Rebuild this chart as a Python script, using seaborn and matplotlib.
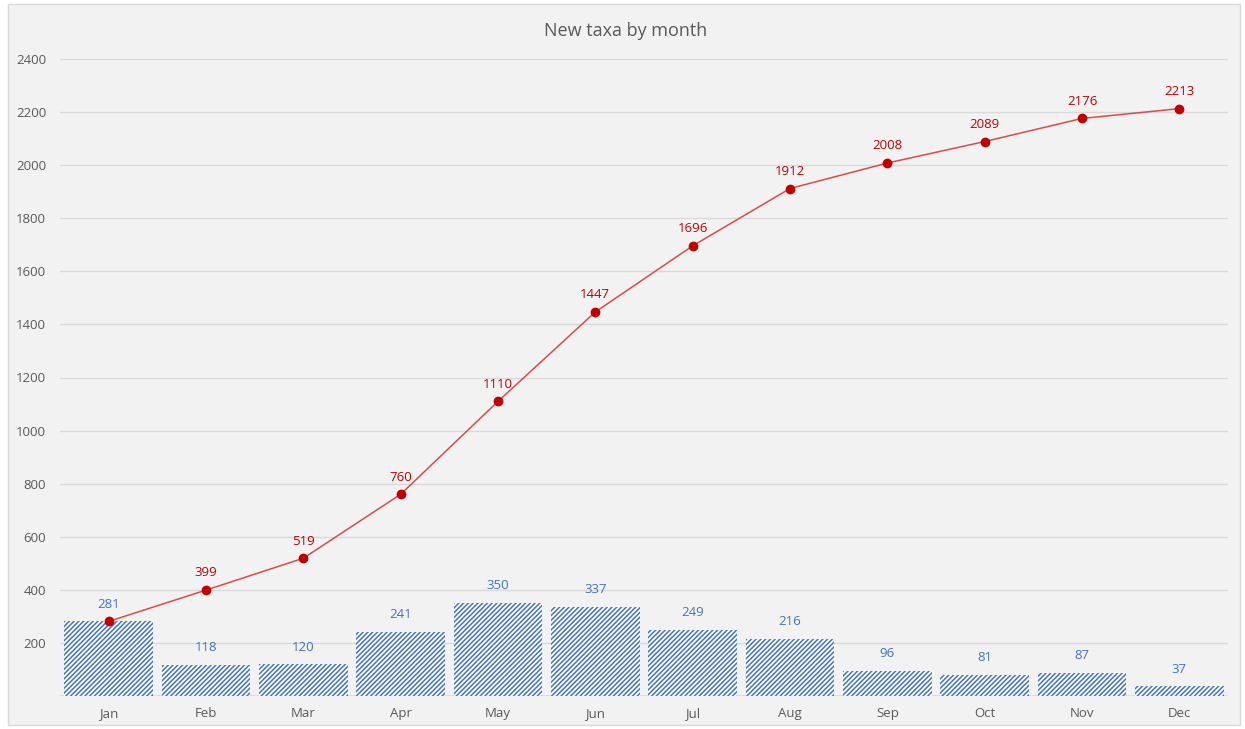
import pandas as pd
import matplotlib
matplotlib.use('Agg')
import matplotlib.pyplot as plt
import seaborn as sns

months = ['Jan', 'Feb', 'Mar', 'Apr', 'May', 'Jun', 'Jul', 'Aug', 'Sep', 'Oct', 'Nov', 'Dec']
new_taxa = [281, 118, 120, 241, 350, 337, 249, 216, 96, 81, 87, 37]
cumulative = [281, 399, 519, 760, 1110, 1447, 1696, 1912, 2008, 2089, 2176, 2213]
y_ticks = [200, 400, 600, 800, 1000, 1200, 1400, 1600, 1800, 2000, 2200, 2400]

df = pd.DataFrame({'month': months, 'new': new_taxa, 'cum': cumulative})

sns.set_theme(style='white')
plt.rcParams['font.family'] = ['Open Sans', 'DejaVu Sans']
plt.rcParams['hatch.linewidth'] = 1.1

bg = '#F2F2F2'
blue = '#4472C4'
red = '#C00000'
line_red = '#DC4A4A'

fig = plt.figure(figsize=(12.45, 7.29), dpi=100)
fig.patch.set_facecolor('white')
# chart area panel
panel = plt.Rectangle((8 / 1245, 4 / 729), 1232 / 1245, 721 / 729, transform=fig.transFigure,
                      facecolor=bg, edgecolor='#D9D9D9', linewidth=1, zorder=-5)
fig.patches.append(panel)

ax = fig.add_axes([60 / 1245, 33 / 729, 1168 / 1245, 637 / 729])
ax.set_zorder(2)
ax.set_facecolor(bg)

sns.barplot(data=df, x='month', y='new', ax=ax, color='white', width=0.91,
            saturation=1, zorder=2)
for p in ax.patches:
    p.set_facecolor('white')
    p.set_edgecolor(blue)
    p.set_hatch('///////')
    p.set_linewidth(0)

x = list(range(len(months)))
ax.plot(x, cumulative, color=line_red, linewidth=1.1, zorder=4)
ax.plot(x, cumulative, color=red, linestyle='none', marker='o', markersize=6, zorder=5)

for i, v in enumerate(cumulative):
    ax.text(i, v + 40, str(v), ha='center', va='bottom', color=red, fontsize=9.5, zorder=6)
for i, v in enumerate(new_taxa):
    ax.text(i, v + 40, str(v), ha='center', va='bottom', color=blue, fontsize=9.5,
            zorder=7, bbox=dict(facecolor=bg, edgecolor='none', pad=0.5) if i == 0 else None)

ax.set_ylim(0, 2400)
ax.set_xlim(-0.5, 11.5)
ax.set_yticks(y_ticks)
ax.yaxis.grid(True, color='#D9D9D9', linewidth=1)
ax.set_axisbelow(True)
ax.axhline(0, color='#D9D9D9', linewidth=1.2, zorder=1)
for s in ax.spines.values():
    s.set_visible(False)
ax.tick_params(axis='both', length=0, colors='#595959', labelsize=9.5)
ax.tick_params(axis='y', pad=10)
ax.tick_params(axis='x', pad=8)
ax.set_xlabel('')
ax.set_ylabel('')

fig.text(626 / 1245, 1 - 31 / 729, 'New taxa by month', ha='center', va='center',
         fontsize=13, color='#595959')

fig.savefig('out.png', dpi=100, facecolor='white')
